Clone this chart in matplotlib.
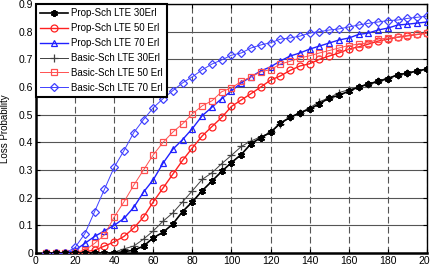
import numpy as np
import matplotlib
matplotlib.use("Agg")
from matplotlib import pyplot as plt

plt.rcParams["font.family"] = ["Liberation Sans", "DejaVu Sans"]

x = np.arange(5, 201, 5)

prop30 = [0, 0, 0, 0, 0, 0, 0, 0, 0.005, 0.01, 0.025, 0.055, 0.075, 0.105, 0.15, 0.185,
          0.225, 0.26, 0.295, 0.327, 0.356, 0.395, 0.417, 0.436, 0.47, 0.49, 0.507, 0.52,
          0.54, 0.56, 0.57, 0.585, 0.6, 0.61, 0.62, 0.63, 0.644, 0.65, 0.658, 0.665]
prop50 = [0, 0, 0, 0, 0.005, 0.01, 0.025, 0.04, 0.06, 0.09, 0.13, 0.185, 0.235, 0.285,
          0.335, 0.38, 0.423, 0.457, 0.49, 0.53, 0.553, 0.576, 0.6, 0.625, 0.64, 0.66,
          0.676, 0.684, 0.7, 0.712, 0.723, 0.737, 0.745, 0.755, 0.766, 0.773, 0.78, 0.785,
          0.79, 0.795]
prop70 = [0, 0, 0, 0.01, 0.035, 0.06, 0.08, 0.10, 0.125, 0.165, 0.22, 0.265, 0.325, 0.375,
          0.41, 0.45, 0.496, 0.527, 0.558, 0.586, 0.615, 0.637, 0.658, 0.673, 0.694, 0.712,
          0.723, 0.737, 0.748, 0.759, 0.77, 0.777, 0.79, 0.795, 0.806, 0.813, 0.824, 0.827,
          0.831, 0.835]
basic30 = [0, 0, 0, 0, 0, 0, 0, 0.003, 0.015, 0.025, 0.05, 0.08, 0.115, 0.145, 0.185,
           0.225, 0.266, 0.29, 0.323, 0.353, 0.385, 0.405, 0.42, 0.436, 0.467, 0.49, 0.507,
           0.525, 0.547, 0.561, 0.58, 0.59, 0.6, 0.612, 0.622, 0.633, 0.644, 0.651, 0.658,
           0.665]
basic50 = [0, 0, 0, 0.003, 0.01, 0.035, 0.065, 0.13, 0.185, 0.245, 0.3, 0.355, 0.4, 0.437,
           0.467, 0.503, 0.532, 0.55, 0.583, 0.597, 0.62, 0.637, 0.655, 0.663, 0.683, 0.693,
           0.705, 0.713, 0.723, 0.732, 0.741, 0.75, 0.755, 0.76, 0.773, 0.777, 0.78, 0.787,
           0.79, 0.795]
basic70 = [0, 0, 0, 0.02, 0.07, 0.15, 0.23, 0.31, 0.37, 0.435, 0.482, 0.525, 0.558, 0.587,
           0.615, 0.637, 0.662, 0.683, 0.698, 0.715, 0.723, 0.741, 0.752, 0.76, 0.773, 0.777,
           0.784, 0.795, 0.8, 0.806, 0.81, 0.817, 0.824, 0.83, 0.835, 0.84, 0.842, 0.848,
           0.852, 0.856]

fig = plt.figure(figsize=(4.31, 2.74), dpi=100)
ax = fig.add_axes([36 / 431, 21 / 274, 391 / 431, 249 / 274])

ms = 5
ax.plot(x, prop30, color="black", lw=1.2, marker=(6, 2, 0), ms=ms, mew=1.4,
        label="Prop-Sch LTE 30Erl", zorder=4)
ax.plot(x, prop50, color="#ff2020", lw=1.0, marker="o", ms=ms, mfc="none", mew=0.9,
        label="Prop-Sch LTE 50 Erl", zorder=3)
ax.plot(x, prop70, color="#2020ff", lw=1.0, marker="^", ms=ms, mfc="none", mew=0.9,
        label="Prop-Sch LTE 70 Erl", zorder=3)
ax.plot(x, basic30, color="#404040", lw=0.7, marker="+", ms=ms + 1, mew=0.9,
        label="Basic-Sch LTE 30Erl", zorder=3)
ax.plot(x, basic50, color="#ff5050", lw=0.7, marker="s", ms=ms, mfc="none", mew=0.9,
        label="Basic-Sch LTE 50 Erl", zorder=3)
ax.plot(x, basic70, color="#4040ff", lw=0.7, marker="D", ms=ms - 0.5, mfc="none", mew=0.9,
        label="Basic-Sch LTE 70 Erl", zorder=3)

ax.set_xlim(0, 200)
ax.set_ylim(0, 0.9)
ax.set_xticks(np.arange(0, 201, 20))
ax.set_yticks(np.arange(0, 0.91, 0.1))
ax.set_yticklabels(["0", "0.1", "0.2", "0.3", "0.4", "0.5", "0.6", "0.7", "0.8", "0.9"])
ax.tick_params(direction="in", labelsize=7.5, length=3, top=True, right=True, pad=2)
ax.grid(axis="y", color="#555555", lw=0.8, ls="-")
ax.grid(axis="x", color="#555555", lw=0.8, ls=(0, (6, 3)))
ax.set_axisbelow(True)
for s in ["left", "bottom"]:
    ax.spines[s].set_linewidth(1.8)
for s in ["top", "right"]:
    ax.spines[s].set_linewidth(1.0)
ax.set_ylabel("Loss Probability", fontsize=7, labelpad=6)

leg = ax.legend(loc="upper left", fontsize=7, frameon=True, fancybox=False,
                borderaxespad=0.05, handlelength=2.8, labelspacing=0.5,
                borderpad=0.4, handletextpad=0.4)
leg.get_frame().set_edgecolor("black")
leg.get_frame().set_linewidth(1.5)
leg.get_frame().set_alpha(1)

fig.savefig("out.png", dpi=100)
